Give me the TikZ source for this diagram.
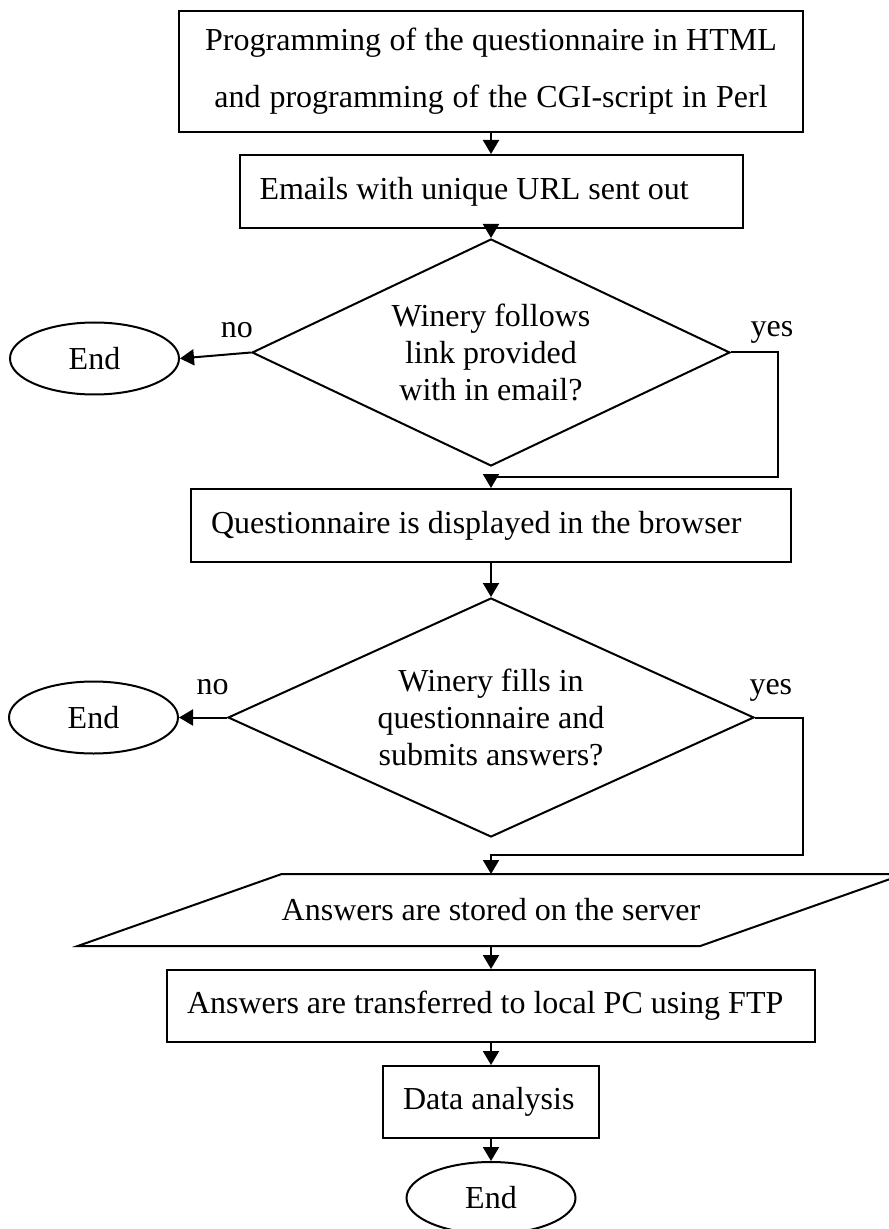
\documentclass[tikz,border=0pt]{standalone}
\usepackage{fontspec}
\setmainfont{Liberation Serif}
\usetikzlibrary{shapes,arrows.meta,positioning}

\begin{document}
\begin{tikzpicture}[node distance=11pt, line width=1pt,
    font=\fontsize{16pt}{18.3pt}\selectfont,
    block/.style={rectangle, draw, align=left, inner xsep=10pt, inner ysep=0pt,
        execute at begin node={\spaceskip=0pt\xspaceskip=0pt}},
    decision/.style={diamond, draw, align=center, inner sep=0pt},
    terminal/.style={ellipse, draw, minimum width=84.5pt, minimum height=36pt, inner sep=0pt},
    io/.style={rectangle, inner sep=0pt, outer sep=0pt, minimum width=204pt, minimum height=36pt},
    lbl/.style={anchor=base, inner sep=0pt},
    arrow/.style={-{Triangle[length=7pt,width=8pt]}}]

    \useasboundingbox (0,0) rectangle (444pt,-614.5pt);

    \node [block, align=center, text width=292pt, minimum height=60.5pt,
        font=\fontsize{16pt}{28.5pt}\selectfont] (prog) at (245.5pt,-35.75pt)
        {Programming of the questionnaire in HTML\\and programming of the CGI-script in Perl};
    \node [block, below=10.5pt of prog, text width=231.5pt, minimum height=36.5pt] (emails)
        {Emails with unique URL sent out};
    \node [decision, shape aspect=2.1, below=4.5pt of emails, minimum width=239pt, minimum height=113.5pt] (follow)
        {Winery follows\\link provided\\with in email?};
    \node [terminal, left=35.5pt of follow, yshift=-3pt] (end1) {End};
    \node [block, below=10.5pt of follow, text width=280pt, minimum height=36.5pt] (browser)
        {Questionnaire is displayed in the browser};
    \node [decision, shape aspect=2.2, below=17pt of browser, minimum width=263pt, minimum height=119.5pt] (fill)
        {Winery fills in\\questionnaire and\\submits answers?};
    \node [terminal, left=24pt of fill] (end2) {End};
    \node [io, below=18pt of fill] (store) {Answers are stored on the server};
    \node [block, below=11.5pt of store, text width=304pt, minimum height=36pt] (ftp)
        {Answers are transferred to local PC using FTP};
    \node [block, below=of ftp, text width=88pt, minimum height=36pt] (analysis) {Data analysis};
    \node [terminal, below=of analysis] (end3) {End};

    % slanted sides of the storage box
    \draw ([xshift=-102pt]store.south west) -- (store.south east)
        -- ([xshift=102pt]store.north east) -- (store.north west) -- cycle;

    % bends of the yes branches
    \coordinate [above=5.5pt of browser] (join1);
    \coordinate [above=9.5pt of store] (join2);

    \draw [arrow] (prog) -- (emails);
    \draw [arrow] (emails) -- (follow);
    \draw [arrow] (follow.west) -- node [lbl, pos=0.2, yshift=8pt] {no} (end1.east);
    \draw [arrow] (follow.east) -- node [lbl, pos=0.87, yshift=8pt] {yes} ++(23.5pt,0) |- (join1) -- (browser);
    \draw [arrow] (browser) -- (fill);
    \draw [arrow] (fill.west) -- node [lbl, pos=0.3, yshift=11.5pt] {no} (end2.east);
    \draw [arrow] (fill.east) -- node [lbl, pos=0.33, yshift=11.5pt] {yes} ++(24pt,0) |- (join2) -- (store);
    \draw [arrow] (store) -- (ftp);
    \draw [arrow] (ftp) -- (analysis);
    \draw [arrow] (analysis) -- (end3);
\end{tikzpicture}
\end{document}
